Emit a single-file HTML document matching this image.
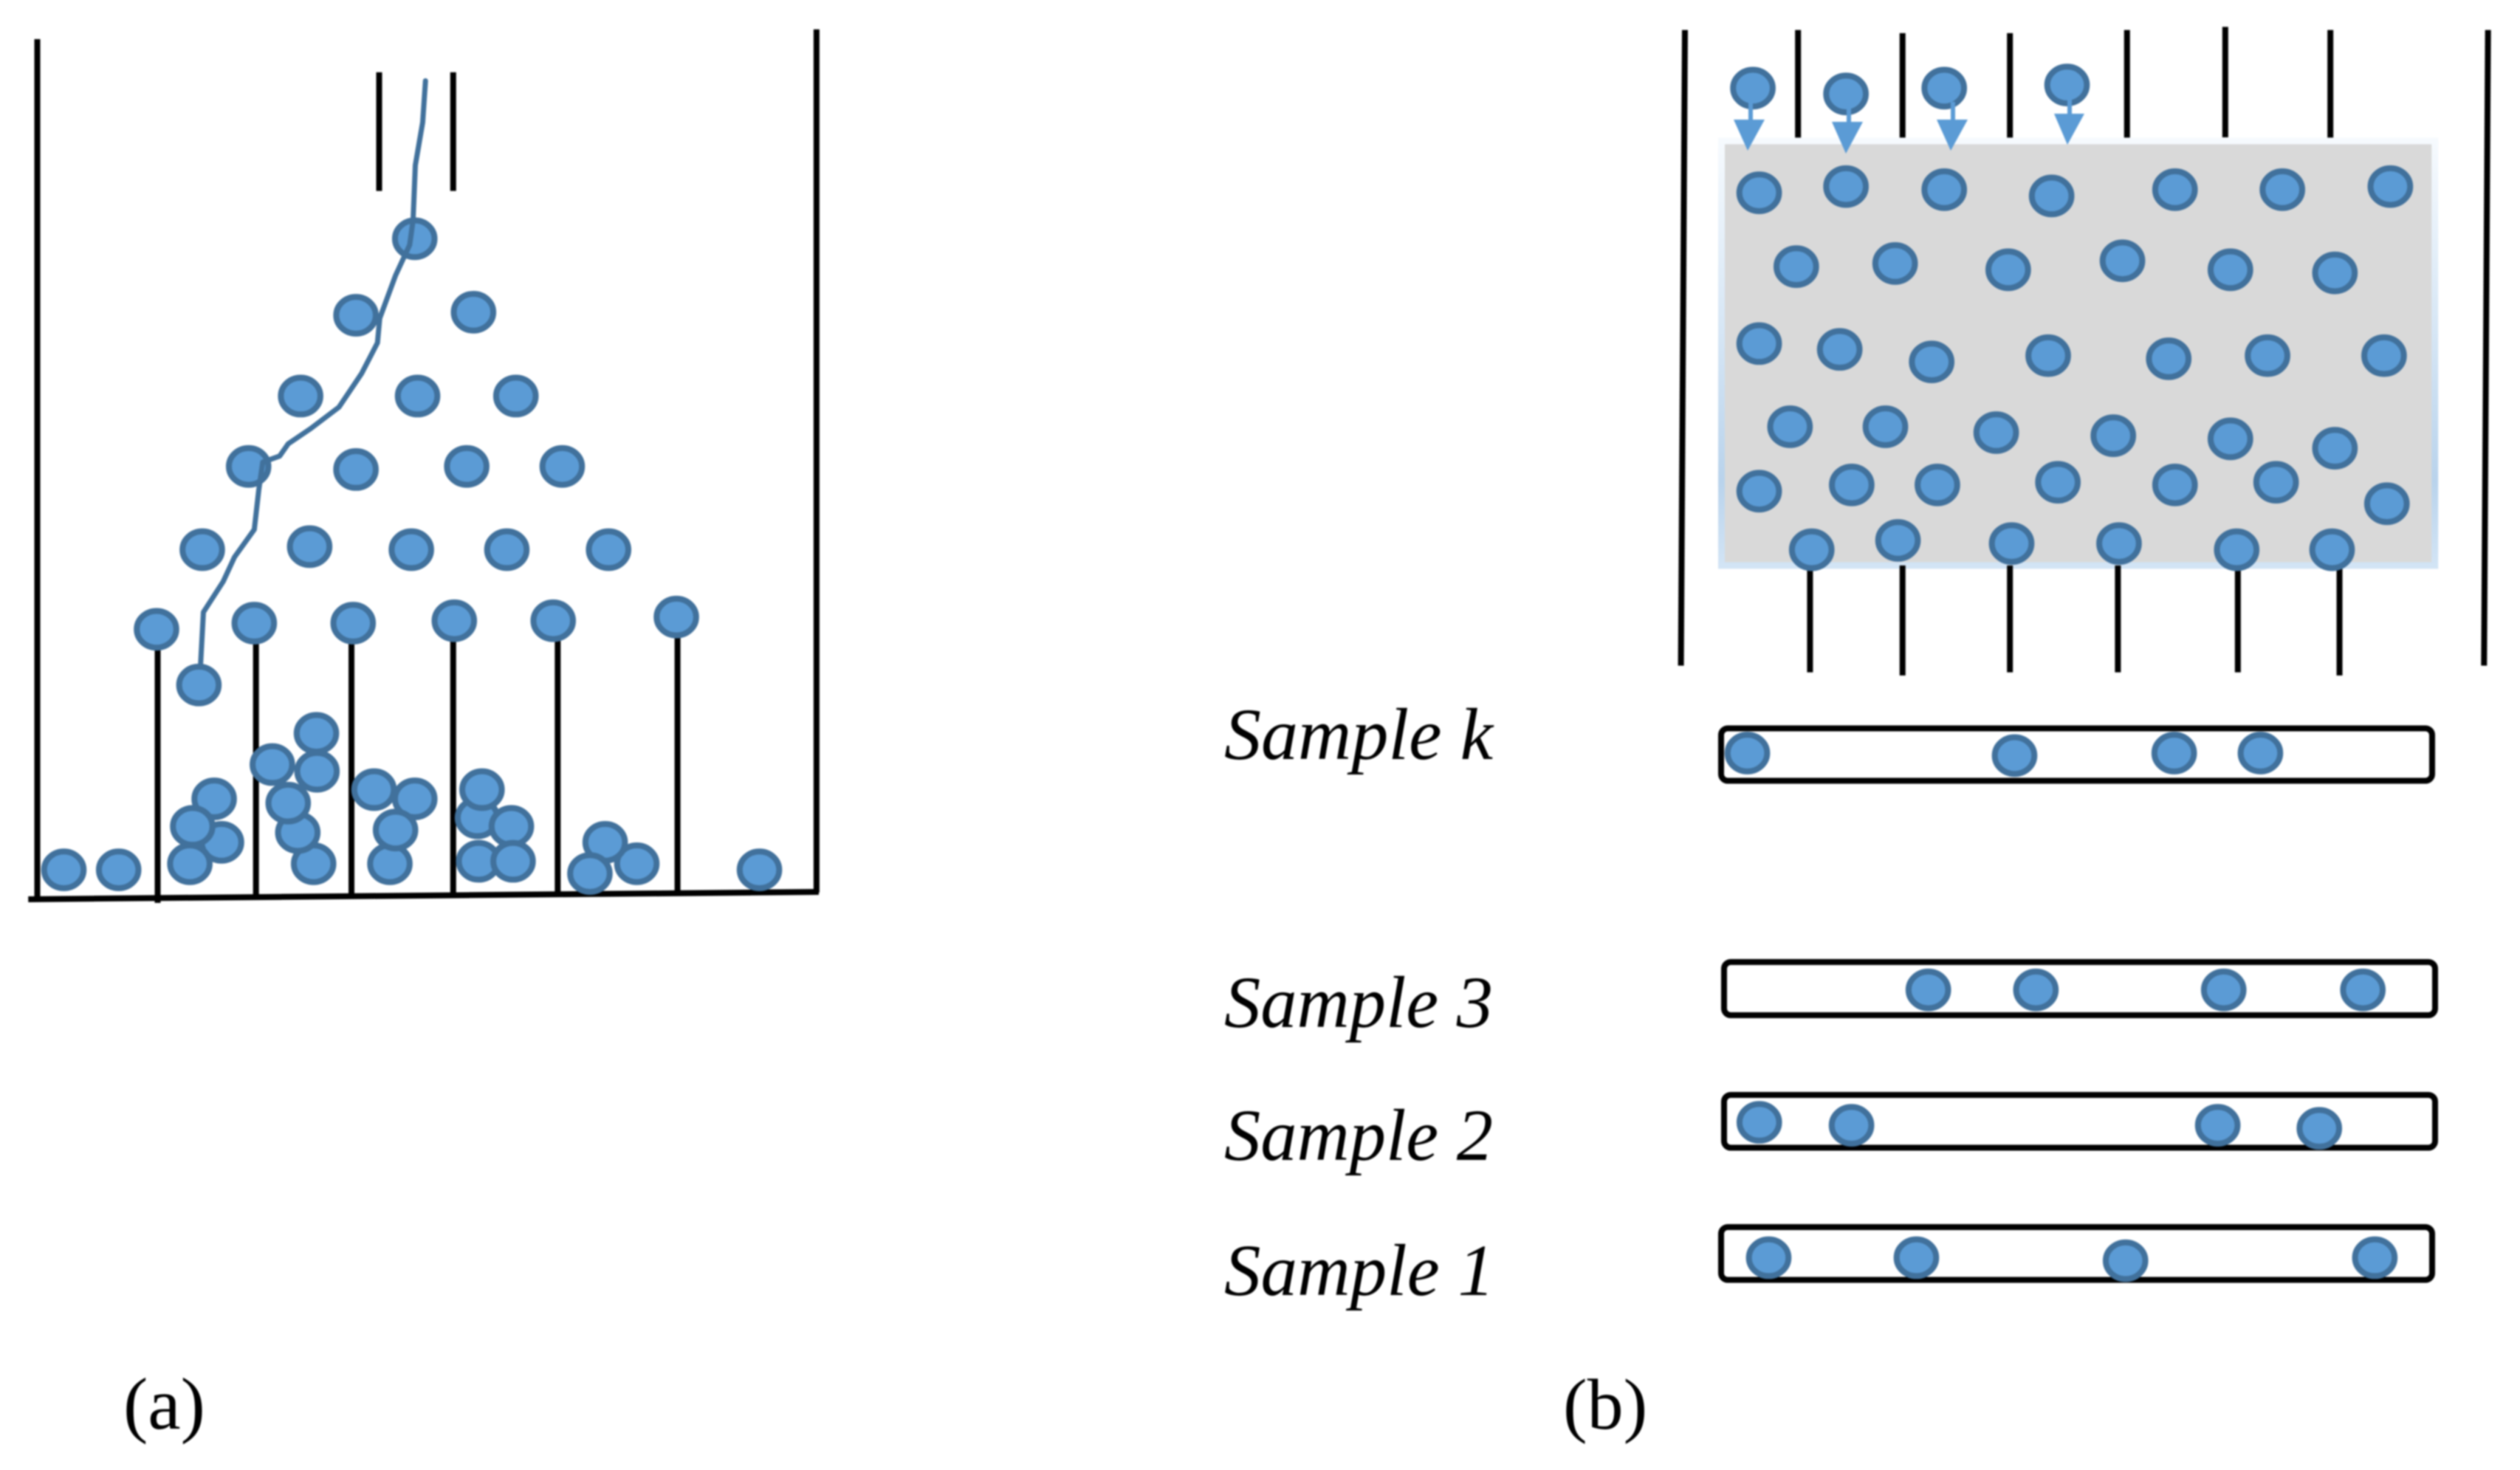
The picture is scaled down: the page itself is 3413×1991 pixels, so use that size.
<!DOCTYPE html>
<html><head><meta charset="utf-8"><style>
html,body{margin:0;padding:0;background:#fff;width:3413px;height:1991px;overflow:hidden}
svg{display:block;filter:blur(1.1px)}
ellipse{fill:#5b9bd5;stroke:#41719c;stroke-width:8;vector-effect:non-scaling-stroke}
line{stroke:#000;stroke-width:8;vector-effect:non-scaling-stroke;fill:none}
text{font-family:"Liberation Serif",serif;fill:#000}
.s{font-style:italic;font-size:100px}
</style></head><body>
<svg xmlns="http://www.w3.org/2000/svg" width="3413" height="1991" viewBox="0 0 3413 1991">
<defs><linearGradient id="g" x1="0" y1="0" x2="0" y2="1"><stop offset="0" stop-color="#f6fafe"/><stop offset=".45" stop-color="#d6e6f5"/><stop offset=".8" stop-color="#b9d3ec"/><stop offset="1" stop-color="#d2e4f5"/></linearGradient></defs>
<rect width="3413" height="1991" fill="#fff"/>

<!-- (a) -->
<g transform="scale(.7653,.8291)">
<line x1="66" y1="64" x2="66" y2="1468"/>
<line x1="1445" y1="48" x2="1445" y2="1458"/>
<line x1="50" y1="1469" x2="1449" y2="1457"/>
<line x1="671" y1="118" x2="671" y2="312"/>
<line x1="802" y1="118" x2="802" y2="312"/>
<line x1="279" y1="1040" x2="279" y2="1475"/>
<line x1="453" y1="1030" x2="453" y2="1464"/>
<line x1="622" y1="1030" x2="622" y2="1464"/>
<line x1="802" y1="1030" x2="802" y2="1462"/>
<line x1="987" y1="1030" x2="987" y2="1460"/>
<line x1="1199" y1="1020" x2="1199" y2="1458"/>
<g>
<ellipse cx="734" cy="390" rx="35" ry="30"/><ellipse cx="630" cy="515" rx="35" ry="30"/><ellipse cx="838" cy="510" rx="35" ry="30"/>
<ellipse cx="532" cy="647" rx="35" ry="30"/><ellipse cx="739" cy="647" rx="35" ry="30"/><ellipse cx="913" cy="647" rx="35" ry="30"/>
<ellipse cx="440" cy="762" rx="35" ry="30"/><ellipse cx="630" cy="767" rx="35" ry="30"/><ellipse cx="826" cy="762" rx="35" ry="30"/><ellipse cx="995" cy="762" rx="35" ry="30"/>
<ellipse cx="358" cy="898" rx="35" ry="30"/><ellipse cx="548" cy="893" rx="35" ry="30"/><ellipse cx="728" cy="898" rx="35" ry="30"/><ellipse cx="897" cy="898" rx="35" ry="30"/><ellipse cx="1077" cy="898" rx="35" ry="30"/>
<ellipse cx="277" cy="1028" rx="35" ry="30"/><ellipse cx="450" cy="1018" rx="35" ry="30"/><ellipse cx="625" cy="1018" rx="35" ry="30"/><ellipse cx="804" cy="1014" rx="35" ry="30"/><ellipse cx="979" cy="1014" rx="35" ry="30"/><ellipse cx="1197" cy="1008" rx="35" ry="30"/>
<ellipse cx="352" cy="1119" rx="35" ry="30"/>
<ellipse cx="560" cy="1198" rx="35" ry="30"/><ellipse cx="561" cy="1260" rx="35" ry="30"/><ellipse cx="482" cy="1249" rx="35" ry="30"/><ellipse cx="555" cy="1411" rx="35" ry="30"/><ellipse cx="527" cy="1360" rx="35" ry="30"/><ellipse cx="510" cy="1312" rx="35" ry="30"/>
<ellipse cx="662" cy="1290" rx="35" ry="30"/><ellipse cx="734" cy="1305" rx="35" ry="30"/><ellipse cx="690" cy="1411" rx="35" ry="30"/><ellipse cx="700" cy="1356" rx="35" ry="30"/>
<ellipse cx="379" cy="1305" rx="35" ry="30"/><ellipse cx="392" cy="1376" rx="35" ry="30"/><ellipse cx="336" cy="1411" rx="35" ry="30"/><ellipse cx="341" cy="1350" rx="35" ry="30"/>
<ellipse cx="845" cy="1336" rx="35" ry="30"/><ellipse cx="853" cy="1290" rx="35" ry="30"/><ellipse cx="905" cy="1350" rx="35" ry="30"/><ellipse cx="847" cy="1407" rx="35" ry="30"/><ellipse cx="908" cy="1407" rx="35" ry="30"/>
<ellipse cx="1127" cy="1411" rx="35" ry="30"/><ellipse cx="1071" cy="1376" rx="35" ry="30"/><ellipse cx="1044" cy="1427" rx="35" ry="30"/>
<ellipse cx="113" cy="1421" rx="35" ry="30"/><ellipse cx="210" cy="1421" rx="35" ry="30"/><ellipse cx="1344" cy="1421" rx="35" ry="30"/>
</g>
<path d="M753 132L748 200L735 270L731 360L725 400L700 450L672 520L668 560L640 610L600 665L550 700L510 725L495 745L465 755L458 800L450 865L415 910L395 950L360 1000L355 1085" fill="none" stroke="#41719c" stroke-width="7" stroke-linejoin="round" stroke-linecap="round" style="vector-effect:non-scaling-stroke"/>
</g>

<!-- (b) chamber -->
<g transform="translate(2200,0) scale(.7736,.6059)">
<line x1="106" y1="67" x2="99" y2="1488"/>
<line x1="1512" y1="67" x2="1505" y2="1488"/>
<line x1="304" y1="67" x2="304" y2="314"/><line x1="487" y1="74" x2="487" y2="320"/><line x1="675" y1="74" x2="675" y2="320"/><line x1="880" y1="67" x2="880" y2="314"/><line x1="1052" y1="60" x2="1052" y2="307"/><line x1="1236" y1="67" x2="1236" y2="314"/>
<rect x="170" y="315" width="1249" height="949" fill="#d9d9d9" stroke="url(#g)" stroke-width="9" style="vector-effect:non-scaling-stroke"/>
<line x1="325" y1="1270" x2="325" y2="1503"/><line x1="487" y1="1264" x2="487" y2="1510"/><line x1="675" y1="1264" x2="675" y2="1503"/><line x1="864" y1="1264" x2="864" y2="1503"/><line x1="1074" y1="1270" x2="1074" y2="1503"/><line x1="1252" y1="1270" x2="1252" y2="1510"/>
<ellipse cx="225" cy="197" rx="34.7" ry="41"/><ellipse cx="388" cy="210" rx="34.7" ry="41"/><ellipse cx="560" cy="197" rx="34.7" ry="41"/><ellipse cx="775" cy="190" rx="34.7" ry="41"/>
<ellipse cx="236" cy="431" rx="34.7" ry="41"/><ellipse cx="388" cy="417" rx="34.7" ry="41"/><ellipse cx="560" cy="424" rx="34.7" ry="41"/><ellipse cx="748" cy="438" rx="34.7" ry="41"/><ellipse cx="964" cy="424" rx="34.7" ry="41"/><ellipse cx="1152" cy="424" rx="34.7" ry="41"/><ellipse cx="1341" cy="417" rx="34.7" ry="41"/>
<ellipse cx="301" cy="596" rx="34.7" ry="41"/><ellipse cx="474" cy="589" rx="34.7" ry="41"/><ellipse cx="672" cy="603" rx="34.7" ry="41"/><ellipse cx="872" cy="583" rx="34.7" ry="41"/><ellipse cx="1061" cy="603" rx="34.7" ry="41"/><ellipse cx="1244" cy="610" rx="34.7" ry="41"/>
<ellipse cx="236" cy="768" rx="34.7" ry="41"/><ellipse cx="377" cy="781" rx="34.7" ry="41"/><ellipse cx="538" cy="809" rx="34.7" ry="41"/><ellipse cx="742" cy="795" rx="34.7" ry="41"/><ellipse cx="953" cy="802" rx="34.7" ry="41"/><ellipse cx="1126" cy="795" rx="34.7" ry="41"/><ellipse cx="1330" cy="795" rx="34.7" ry="41"/>
<ellipse cx="290" cy="954" rx="34.7" ry="41"/><ellipse cx="457" cy="954" rx="34.7" ry="41"/><ellipse cx="651" cy="967" rx="34.7" ry="41"/><ellipse cx="856" cy="974" rx="34.7" ry="41"/><ellipse cx="1061" cy="981" rx="34.7" ry="41"/><ellipse cx="1244" cy="1002" rx="34.7" ry="41"/>
<ellipse cx="236" cy="1098" rx="34.7" ry="41"/><ellipse cx="398" cy="1084" rx="34.7" ry="41"/><ellipse cx="548" cy="1084" rx="34.7" ry="41"/><ellipse cx="759" cy="1078" rx="34.7" ry="41"/><ellipse cx="964" cy="1084" rx="34.7" ry="41"/><ellipse cx="1141" cy="1078" rx="34.7" ry="41"/><ellipse cx="1335" cy="1126" rx="34.7" ry="41"/>
<ellipse cx="328" cy="1229" rx="34.7" ry="41"/><ellipse cx="479" cy="1208" rx="34.7" ry="41"/><ellipse cx="678" cy="1215" rx="34.7" ry="41"/><ellipse cx="866" cy="1215" rx="34.7" ry="41"/><ellipse cx="1072" cy="1229" rx="34.7" ry="41"/><ellipse cx="1239" cy="1229" rx="34.7" ry="41"/>
</g>
<!-- arrows -->
<g fill="#5b9bd5">
<rect x="2368" y="138" width="6" height="26"/><polygon points="2348,162 2390,162 2367,204"/>
<rect x="2501" y="145" width="6" height="22"/><polygon points="2481,165 2523,165 2500,208"/>
<rect x="2642" y="138" width="6" height="26"/><polygon points="2623,162 2665,162 2642,204"/>
<rect x="2800" y="134" width="6" height="24"/><polygon points="2782,154 2823,154 2800,196"/>
</g>

<!-- samples -->
<g fill="#fff" stroke="#000" stroke-width="8">
<rect x="2331" y="986.5" width="963" height="71" rx="9"/>
<rect x="2335" y="1303" width="963" height="72" rx="9"/>
<rect x="2335" y="1483" width="963" height="71.5" rx="9"/>
<rect x="2331" y="1662" width="963" height="71.5" rx="9"/>
</g>
<g transform="translate(1600,930) scale(1.1562,.6767)">
<ellipse cx="663" cy="133" rx="23.2" ry="36.7"/><ellipse cx="976" cy="138" rx="23.2" ry="36.7"/><ellipse cx="1163" cy="133" rx="23.2" ry="36.7"/><ellipse cx="1264" cy="133" rx="23.2" ry="36.7"/>
<ellipse cx="875" cy="607" rx="23.2" ry="36.7"/><ellipse cx="1001" cy="607" rx="23.2" ry="36.7"/><ellipse cx="1221" cy="607" rx="23.2" ry="36.7"/><ellipse cx="1384" cy="607" rx="23.2" ry="36.7"/>
<ellipse cx="677" cy="872" rx="23.2" ry="36.7"/><ellipse cx="785" cy="878" rx="23.2" ry="36.7"/><ellipse cx="1214" cy="878" rx="23.2" ry="36.7"/><ellipse cx="1333" cy="884" rx="23.2" ry="36.7"/>
<ellipse cx="688" cy="1143" rx="23.2" ry="36.7"/><ellipse cx="861" cy="1143" rx="23.2" ry="36.7"/><ellipse cx="1106" cy="1149" rx="23.2" ry="36.7"/><ellipse cx="1398" cy="1143" rx="23.2" ry="36.7"/>
</g>
<text class="s" x="1658" y="1028" textLength="364" lengthAdjust="spacingAndGlyphs">Sample k</text>
<text class="s" x="1658" y="1391" textLength="364" lengthAdjust="spacingAndGlyphs">Sample 3</text>
<text class="s" x="1658" y="1571" textLength="364" lengthAdjust="spacingAndGlyphs">Sample 2</text>
<text class="s" x="1658" y="1754" textLength="366" lengthAdjust="spacingAndGlyphs">Sample 1</text>
<text x="167" y="1935" font-size="100">(a)</text>
<text x="2117" y="1935" font-size="98">(b)</text>
</svg>
</body></html>
